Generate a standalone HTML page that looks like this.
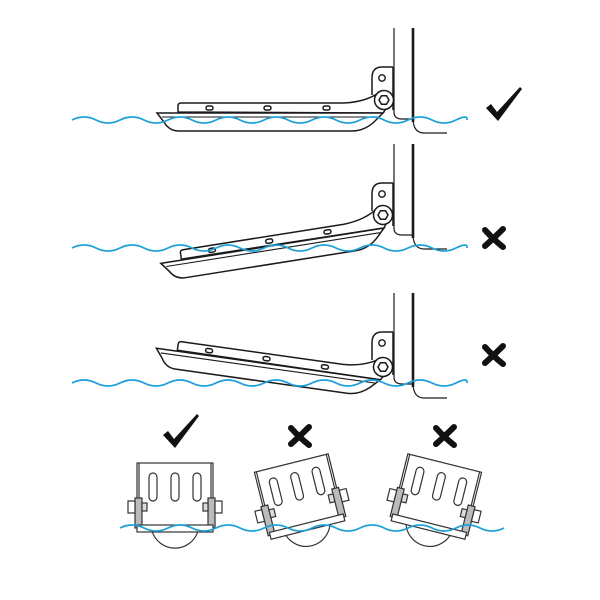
<!DOCTYPE html>
<html><head><meta charset="utf-8"><style>html,body{margin:0;padding:0;background:#fff}svg{display:block}</style></head>
<body>
<svg width="600" height="600" viewBox="0 0 600 600" xmlns="http://www.w3.org/2000/svg">
<defs>
<g id="arm" fill="#fff" stroke="#1a1a1a" stroke-width="1.5">
  <path d="M-206,12 L-206,6 Q-206,3 -203,3 L-40,3 Q-18,2 -4,-8 L4,6 L-1,13 Z"/>
  <path d="M-227,13 L-1,13 L-10,22 Q-20,31 -32,31 L-205,31 Q-215,31 -220,22 Z"/>
  <line x1="-222" y1="17" x2="-6" y2="17" stroke-width="1.1"/>
  <rect x="-178" y="6" width="7" height="4" rx="2"/>
  <rect x="-120" y="6" width="7" height="4" rx="2"/>
  <rect x="-61" y="6" width="7" height="4" rx="2"/>
</g>
<g id="hull" fill="none" stroke="#1a1a1a">
  <path d="M394,28 V112 Q394,119 402,119 L413,119" stroke-width="1.2"/>
  <line x1="413" y1="28" x2="413" y2="122" stroke-width="2.6"/>
  <path d="M413,120 Q414,133 424,133 L447,133" stroke-width="1.2"/>
  <path d="M393,67 L382,67 Q372,67 372,78 L372,95" fill="#fff" stroke-width="1.5"/>
  <path d="M393,67 L393,110" stroke-width="1.5"/>
  <circle cx="382" cy="78" r="3.2" stroke-width="1.4"/>
</g>
<g id="pivot" stroke="#1a1a1a" fill="#fff" stroke-width="1.5">
  <circle cx="0" cy="0" r="9.5"/>
  <polygon points="5,0 2.5,4.3 -2.5,4.3 -5,0 -2.5,-4.3 2.5,-4.3"/>
</g>
<g id="box" fill="#fff" stroke="#333" stroke-width="1.2">
  <path d="M-23,32 A24,24 0 0 0 23,32"/>
  <rect x="-38" y="-36" width="76" height="64"/>
  <line x1="-36" y1="-36" x2="-36" y2="26"/>
  <line x1="36" y1="-36" x2="36" y2="26"/>
  <rect x="-26" y="-26" width="8" height="28" rx="4"/>
  <rect x="-4" y="-26" width="8" height="28" rx="4"/>
  <rect x="18" y="-26" width="8" height="28" rx="4"/>
  <rect x="-40" y="-1" width="7" height="30" fill="#bbb"/>
  <rect x="33" y="-1" width="7" height="30" fill="#bbb"/>
  <rect x="-47" y="2" width="7" height="12"/>
  <rect x="40" y="2" width="7" height="12"/>
  <rect x="-33" y="4" width="5" height="8" fill="#ddd"/>
  <rect x="28" y="4" width="5" height="8" fill="#ddd"/>
  <rect x="-38" y="26" width="76" height="7"/>
</g>
<path id="chk" d="M-14,2 L-9,-2 L-3,6 L20,-19 L22,-17 L-2,15 Z" fill="#111"/>
<g id="xx" stroke="#111" stroke-width="6" stroke-linecap="round">
  <path d="M-9,-8 Q0,2 9,9"/><path d="M9,-9 Q0,0 -9,8"/>
</g>
</defs>

<use href="#hull"/>
<g transform="translate(384,100)"><use href="#arm"/><use href="#pivot"/></g>
<path d="M72,120 q12,-6 24,0 t24,0 t24,0 t24,0 t24,0 t24,0 t24,0 t24,0 t24,0 t24,0 t24,0 t24,0 t24,0 t24,0 t24,0 t24,0 t11,0" fill="none" stroke="#1ca0dc" stroke-width="1.8"/>
<use href="#chk" transform="translate(500,106)"/>

<use href="#hull" transform="translate(0,116)"/>
<g transform="translate(383,215) rotate(-9)"><use href="#arm"/></g>
<g transform="translate(383,215)"><use href="#pivot"/></g>
<path d="M72,248 q12,-6 24,0 t24,0 t24,0 t24,0 t24,0 t24,0 t24,0 t24,0 t24,0 t24,0 t24,0 t24,0 t24,0 t24,0 t24,0 t24,0 t11,0" fill="none" stroke="#1ca0dc" stroke-width="1.8"/>
<use href="#xx" transform="translate(494,238)"/>

<use href="#hull" transform="translate(0,265)"/>
<g transform="translate(383,367) rotate(8)"><use href="#arm"/></g>
<g transform="translate(383,367)"><use href="#pivot"/></g>
<path d="M72,383 q12,-6 24,0 t24,0 t24,0 t24,0 t24,0 t24,0 t24,0 t24,0 t24,0 t24,0 t24,0 t24,0 t24,0 t24,0 t24,0 t24,0 t11,0" fill="none" stroke="#1ca0dc" stroke-width="1.8"/>
<use href="#xx" transform="translate(494,355)"/>

<use href="#chk" transform="translate(177,433)"/>
<use href="#xx" transform="translate(300,436)"/>
<use href="#xx" transform="translate(445,436)"/>
<g transform="translate(175,499)"><use href="#box"/></g>
<g transform="translate(300,498) rotate(-14)"><use href="#box"/></g>
<g transform="translate(436,498) rotate(14)"><use href="#box"/></g>
<path d="M120,528 q12,-6 24,0 t24,0 t24,0 t24,0 t24,0 t24,0 t24,0 t24,0 t24,0 t24,0 t24,0 t24,0 t24,0 t24,0 t24,0 t24,0" fill="none" stroke="#1ca0dc" stroke-width="1.8"/>
</svg>
</body></html>
